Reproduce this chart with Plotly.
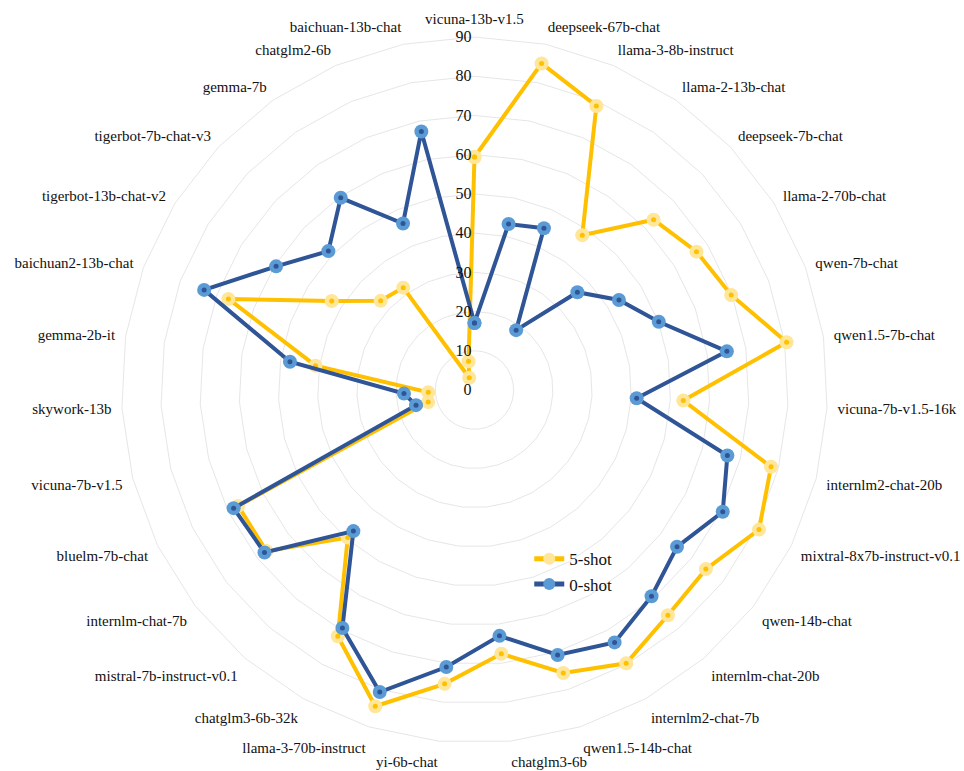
import plotly.graph_objects as go

categories = [
    "vicuna-13b-v1.5", "deepseek-67b-chat", "llama-3-8b-instruct", "llama-2-13b-chat",
    "deepseek-7b-chat", "llama-2-70b-chat", "qwen-7b-chat", "qwen1.5-7b-chat",
    "vicuna-7b-v1.5-16k", "internlm2-chat-20b", "mixtral-8x7b-instruct-v0.1",
    "qwen-14b-chat", "internlm-chat-20b", "internlm2-chat-7b", "qwen1.5-14b-chat",
    "chatglm3-6b", "yi-6b-chat", "llama-3-70b-instruct", "chatglm3-6b-32k",
    "mistral-7b-instruct-v0.1", "internlm-chat-7b", "bluelm-7b-chat", "vicuna-7b-v1.5",
    "skywork-13b", "gemma-2b-it", "baichuan2-13b-chat", "tigerbot-13b-chat-v2",
    "tigerbot-7b-chat-v3", "gemma-7b", "chatglm2-6b", "baichuan-13b-chat",
]

five_shot = [
    59.4, 85.0, 78.8, 48.1, 63.0, 66.7, 69.8, 80.5, 53.3, 78.1, 80.8,
    74.6, 75.7, 79.7, 75.6, 67.6, 75.3, 84.5, 71.8, 49.6, 67.1, 67.1,
    12.2, 11.8, 41.0, 66.9, 42.9, 33.0, 31.8, 3.4, 7.5,
]

zero_shot = [
    17.1, 43.2, 44.9, 18.6, 36.2, 43.4, 50.1, 65.1, 41.4, 66.6, 70.5,
    65.3, 69.3, 73.6, 70.8, 63.0, 71.0, 80.7, 69.4, 47.4, 67.7, 68.4,
    15.4, 18.0, 47.6, 73.5, 59.6, 51.4, 59.7, 46.2, 67.3,
]

radial_ticks = [0, 10, 20, 30, 40, 50, 60, 70, 80, 90]

series = [
    ("5-shot", five_shot, "#FFC000", "#FFE699", "#FFC000"),
    ("0-shot", zero_shot, "#2F5597", "#5B9BD5", "#2F5597"),
]

fig = go.Figure()
theta_closed = categories + [categories[0]]
for name, vals, line_c, outer_c, dot_c in series:
    r_closed = vals + [vals[0]]
    fig.add_trace(go.Scatterpolar(
        r=r_closed, theta=theta_closed, name=name, mode="lines+markers",
        line=dict(color=line_c, width=4),
        marker=dict(size=14, color=outer_c, line=dict(width=0)),
        legendgroup=name,
    ))
    fig.add_trace(go.Scatterpolar(
        r=r_closed, theta=theta_closed, name=name, mode="markers",
        marker=dict(size=5, color=dot_c, line=dict(width=0)),
        showlegend=False, legendgroup=name, hoverinfo="skip",
    ))

font_family = "Liberation Serif"
fig.update_layout(
    width=964, height=771,
    margin=dict(l=0, r=0, t=0, b=0),
    paper_bgcolor="white",
    font=dict(family=font_family, size=16, color="#111"),
    showlegend=True,
    legend=dict(
        x=0.549, y=0.298, xanchor="left", yanchor="top",
        bgcolor="rgba(0,0,0,0)", font=dict(size=17, family=font_family),
        traceorder="normal", itemwidth=30, itemsizing="constant",
        tracegroupgap=4,
    ),
    polar=dict(
        domain=dict(x=[0.1260, 0.8584], y=[0.0363, 0.9520]),
        bgcolor="white",
        gridshape="linear",
        radialaxis=dict(
            range=[0, 90], tickvals=radial_ticks, ticktext=[str(t) for t in radial_ticks],
            angle=90, side="counterclockwise", showline=False, ticks="",
            tickangle=90,
            gridcolor="#E6E6E6", gridwidth=1,
            tickfont=dict(size=16, family=font_family, color="#111"),
        ),
        angularaxis=dict(
            categoryorder="array", categoryarray=categories,
            direction="clockwise", rotation=90,
            showgrid=False, showline=True, linecolor="#E6E6E6", linewidth=1,
            ticks="outside", ticklen=7, tickcolor="rgba(0,0,0,0)",
            tickfont=dict(size=15, family=font_family, color="#111"),
        ),
    ),
)

fig.write_html(
    "out.html",
    config={"displayModeBar": False},
    post_script="document.body.style.margin='0';",
)
